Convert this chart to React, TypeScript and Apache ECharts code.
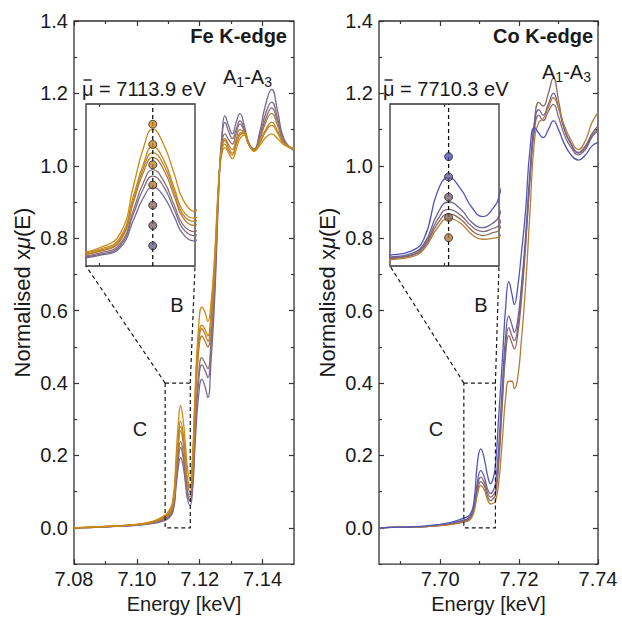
import React, { useEffect, useRef } from "react";
import * as echarts from "echarts";

const FONT = '"Liberation Sans", Arial, Helvetica, sans-serif';
const INK = "#1a1a1a";
const FRAME = "#333333";

// ---------- Fe K-edge data (energy in keV, normalised absorption) ----------
const feEnergy = [
  7.08, 7.09, 7.1, 7.105, 7.108, 7.11, 7.1115, 7.1125, 7.1132, 7.1139,
  7.1147, 7.1155, 7.1161, 7.1169, 7.1177, 7.1186, 7.1196, 7.1207, 7.1217, 7.1226,
  7.1236, 7.1248, 7.1262, 7.1272, 7.128, 7.1292, 7.1304, 7.1316, 7.1328, 7.1342,
  7.1356, 7.1373, 7.139, 7.141, 7.1429, 7.1448, 7.1468, 7.15,
];
const fePurple = [
  0.0, 0.003, 0.007, 0.012, 0.018, 0.026, 0.045, 0.115, 0.168, 0.195,
  0.172, 0.12, 0.08, 0.062, 0.1, 0.24, 0.36, 0.41, 0.39, 0.36,
  0.46, 0.64, 0.96, 1.1, 1.138, 1.11, 1.088, 1.12, 1.144, 1.11,
  1.065, 1.046, 1.09, 1.17, 1.211, 1.15, 1.075, 1.042,
];
const feViolet = [
  0.0, 0.003, 0.008, 0.013, 0.02, 0.029, 0.05, 0.13, 0.19, 0.222,
  0.196, 0.137, 0.093, 0.075, 0.115, 0.27, 0.4, 0.45, 0.435, 0.415,
  0.5, 0.67, 0.97, 1.09, 1.12, 1.095, 1.075, 1.1, 1.124, 1.1,
  1.06, 1.046, 1.08, 1.145, 1.176, 1.13, 1.07, 1.043,
];
const feMauve = [
  0.0, 0.003, 0.008, 0.014, 0.022, 0.032, 0.055, 0.14, 0.205, 0.238,
  0.21, 0.148, 0.103, 0.085, 0.125, 0.29, 0.42, 0.47, 0.455, 0.44,
  0.52, 0.69, 0.97, 1.07, 1.088, 1.072, 1.06, 1.09, 1.115, 1.095,
  1.06, 1.045, 1.075, 1.13, 1.16, 1.12, 1.068, 1.045,
];
const feBrown = [
  0.0, 0.003, 0.009, 0.015, 0.025, 0.036, 0.062, 0.16, 0.23, 0.268,
  0.238, 0.17, 0.12, 0.1, 0.15, 0.34, 0.48, 0.53, 0.515, 0.5,
  0.57, 0.72, 0.97, 1.06, 1.075, 1.058, 1.045, 1.072, 1.1, 1.09,
  1.058, 1.045, 1.07, 1.12, 1.145, 1.11, 1.065, 1.047,
];
const feAmber = [
  0.0, 0.004, 0.009, 0.016, 0.026, 0.038, 0.065, 0.165, 0.24, 0.28,
  0.25, 0.18, 0.128, 0.11, 0.16, 0.36, 0.5, 0.55, 0.535, 0.515,
  0.58, 0.73, 0.975, 1.055, 1.07, 1.05, 1.035, 1.062, 1.09, 1.093,
  1.06, 1.043, 1.063, 1.1, 1.12, 1.095, 1.062, 1.048,
];
const feOrange = [
  0.0, 0.004, 0.01, 0.017, 0.028, 0.041, 0.07, 0.175, 0.25, 0.295,
  0.262, 0.19, 0.137, 0.118, 0.17, 0.375, 0.515, 0.56, 0.548, 0.53,
  0.595, 0.745, 0.978, 1.05, 1.06, 1.042, 1.03, 1.058, 1.085, 1.09,
  1.06, 1.042, 1.06, 1.095, 1.112, 1.09, 1.06, 1.05,
];
const feGold = [
  0.0, 0.004, 0.01, 0.018, 0.03, 0.045, 0.08, 0.2, 0.29, 0.338,
  0.3, 0.225, 0.165, 0.135, 0.2, 0.39, 0.55, 0.61, 0.595, 0.57,
  0.62, 0.76, 0.98, 1.04, 1.05, 1.035, 1.02, 1.045, 1.075, 1.085,
  1.06, 1.04, 1.055, 1.078, 1.088, 1.075, 1.058, 1.045,
];
const feColors = ["#75699a", "#806b86", "#8e6f72", "#b07c3c", "#bd8226", "#c4861c", "#cc8a12"];
const feCentroid = 7.1139;
const feDotLevels = [0.35, 0.3, 0.25, 0.2, 0.15, 0.1, 0.05];
const feDotColors = ["#d08c16", "#c98a20", "#bd842c", "#b07a36", "#8d6b62", "#7d6672", "#6c6088"];
const feWindow = [7.109, 7.117];

// ---------- Co K-edge data ----------
const coEnergy = [
  7.6845, 7.69, 7.695, 7.7, 7.703, 7.706, 7.7075, 7.7085, 7.7095, 7.7103,
  7.7112, 7.712, 7.7128, 7.7135, 7.714, 7.7148, 7.7158, 7.7166, 7.7174, 7.7182,
  7.7188, 7.7196, 7.7206, 7.7216, 7.7228, 7.7239, 7.725, 7.7261, 7.7274, 7.7287,
  7.73, 7.7315, 7.7332, 7.735, 7.7368, 7.7385, 7.74,
];
const coBlue = [
  0.0, 0.002, 0.004, 0.01, 0.016, 0.027, 0.036, 0.068, 0.185, 0.218,
  0.19, 0.145, 0.122, 0.14, 0.171, 0.3, 0.47, 0.61, 0.68, 0.645,
  0.617, 0.66, 0.76, 0.87, 1.05, 1.106, 1.09, 1.078, 1.1, 1.124,
  1.1, 1.06, 1.03, 1.016, 1.03, 1.055, 1.065,
];
const coPurple = [
  0.0, 0.002, 0.003, 0.008, 0.013, 0.022, 0.03, 0.055, 0.13, 0.158,
  0.14, 0.108, 0.095, 0.105, 0.122, 0.22, 0.4, 0.53, 0.585, 0.56,
  0.54, 0.57, 0.67, 0.8, 0.99, 1.12, 1.155, 1.14, 1.17, 1.2,
  1.16, 1.1, 1.06, 1.035, 1.05, 1.085, 1.101,
];
const coMauve = [
  0.0, 0.002, 0.003, 0.007, 0.012, 0.02, 0.027, 0.05, 0.115, 0.14,
  0.125, 0.098, 0.085, 0.092, 0.101, 0.19, 0.37, 0.5, 0.553, 0.53,
  0.517, 0.55, 0.65, 0.78, 0.97, 1.1, 1.14, 1.125, 1.15, 1.17,
  1.135, 1.085, 1.05, 1.03, 1.045, 1.08, 1.097,
];
const coBrown = [
  0.0, 0.002, 0.003, 0.007, 0.011, 0.018, 0.025, 0.046, 0.105, 0.128,
  0.115, 0.088, 0.075, 0.082, 0.089, 0.17, 0.35, 0.48, 0.531, 0.51,
  0.494, 0.53, 0.63, 0.77, 0.97, 1.12, 1.175, 1.165, 1.2, 1.243,
  1.18, 1.1, 1.06, 1.037, 1.055, 1.09, 1.11,
];
const coOrange = [
  0.0, 0.002, 0.003, 0.006, 0.01, 0.016, 0.022, 0.042, 0.095, 0.117,
  0.105, 0.078, 0.066, 0.068, 0.072, 0.12, 0.25, 0.36, 0.405, 0.405,
  0.385, 0.41, 0.52, 0.66, 0.88, 1.07, 1.12, 1.13, 1.16, 1.188,
  1.16, 1.11, 1.07, 1.045, 1.07, 1.12, 1.147,
];
const coColors = ["#5055b8", "#6e6096", "#82697c", "#8c6a5c", "#b47c38"];
const coCentroid = 7.7103;
const coDotLevels = [0.27, 0.22, 0.17, 0.12, 0.07];
const coDotColors = ["#4a52b8", "#6b5c94", "#7e6674", "#8c6656", "#b2782e"];
const coWindow = [7.706, 7.714];

// ---------- axes ticks ----------
const feRange = [7.08, 7.15];
const coRange = [7.6845, 7.74];
const feMajorTicks = [7.08, 7.1, 7.12, 7.14];
const feMinorTicks = [7.09, 7.11, 7.13];
const coMajorTicks = [7.7, 7.72, 7.74];
const coMinorTicks = [7.69, 7.71, 7.73];
const yRange = [-0.1, 1.4];
const yMajorTicks = [0, 0.2, 0.4, 0.6, 0.8, 1.0, 1.2, 1.4];
const yMinorTicks = [-0.1, 0.1, 0.3, 0.5, 0.7, 0.9, 1.1, 1.3];
const zoomTop = 0.4;
const feInsetTicks = [7.11];
const coInsetTicks = [7.71];

const tickLine = { color: FRAME, width: 1.2 };
const labelFont = { fontSize: 20, fontFamily: FONT, color: INK };

function tick(values: number[], length: number) {
  return { show: true, inside: true, length, customValues: values, lineStyle: tickLine };
}

function xAxesFor(gridIndex: number, range: number[], major: number[], minor: number[]) {
  const common = {
    gridIndex, type: "value", min: range[0], max: range[1],
    splitLine: { show: false }, axisLine: { show: false, onZero: false },
  };
  return [
    {
      ...common, position: "bottom", axisTick: tick(major, 5),
      axisLabel: { show: true, customValues: major, margin: 5, formatter: (v: number) => v.toFixed(2), ...labelFont },
      name: "Energy [keV]", nameLocation: "middle", nameGap: 26,
      nameTextStyle: { fontSize: 20, fontFamily: FONT, color: INK },
    },
    { ...common, position: "top", axisTick: tick(major, 5), axisLabel: { show: false } },
    { ...common, position: "bottom", axisTick: tick(minor, 3), axisLabel: { show: false } },
    { ...common, position: "top", axisTick: tick(minor, 3), axisLabel: { show: false } },
  ];
}

function yAxesFor(gridIndex: number) {
  const common = {
    gridIndex, type: "value", min: yRange[0], max: yRange[1],
    splitLine: { show: false }, axisLine: { show: false, onZero: false },
  };
  return [
    {
      ...common, position: "left", axisTick: tick(yMajorTicks, 5),
      axisLabel: { show: true, customValues: yMajorTicks, margin: 6, formatter: (v: number) => v.toFixed(1), ...labelFont },
      name: "{n|Normalised x}{m|\u03bc}{n|(E)}", nameLocation: "middle", nameGap: 41,
      nameTextStyle: {
        fontSize: 22, fontFamily: FONT, color: INK,
        rich: {
          n: { fontSize: 22, fontFamily: FONT, color: INK },
          m: { fontSize: 22, fontFamily: FONT, color: INK, fontStyle: "italic" },
        },
      },
    },
    { ...common, position: "right", axisTick: tick(yMajorTicks, 5), axisLabel: { show: false } },
    { ...common, position: "left", axisTick: tick(yMinorTicks, 3), axisLabel: { show: false } },
    { ...common, position: "right", axisTick: tick(yMinorTicks, 3), axisLabel: { show: false } },
  ];
}

function insetXAxes(gridIndex: number, win: number[], ticks: number[]) {
  const common = {
    gridIndex, type: "value", min: win[0], max: win[1],
    splitLine: { show: false }, axisLine: { show: false, onZero: false }, axisLabel: { show: false },
  };
  return [
    { ...common, position: "bottom", axisTick: tick(ticks, 3) },
    { ...common, position: "top", axisTick: tick(ticks, 3) },
  ];
}

function insetYAxis(gridIndex: number) {
  return {
    gridIndex, type: "value", min: 0, max: zoomTop,
    splitLine: { show: false }, axisLine: { show: false, onZero: false },
    axisLabel: { show: false }, axisTick: { show: false },
  };
}

function lineSeries(energy: number[], values: number[], color: string, xi: number, yi: number) {
  return {
    type: "line", xAxisIndex: xi, yAxisIndex: yi,
    data: energy.map((e, i) => [e, values[i]]),
    showSymbol: false, symbol: "none", smooth: 0.5,
    lineStyle: { color, width: 1.3 }, silent: true, z: 2,
  };
}

const feLines = [fePurple, feViolet, feMauve, feBrown, feAmber, feOrange, feGold];
const coLines = [coBrown, coMauve, coPurple, coOrange, coBlue];
const coLineColors = [coColors[3], coColors[2], coColors[1], coColors[4], coColors[0]];

// axis index layout: x: 0-3 Fe main, 4-7 Co main, 8-9 Fe inset, 10-11 Co inset
// y: 0-3 Fe main, 4-7 Co main, 8 Fe inset, 9 Co inset
function buildOption() {
  const grids = [
    { left: 74, top: 21, width: 220, height: 548, backgroundColor: "transparent" },
    { left: 379, top: 21, width: 219, height: 548, backgroundColor: "transparent" },
    { left: 86, top: 104, width: 109, height: 162, backgroundColor: "#ffffff" },
    { left: 390, top: 104, width: 109, height: 162, backgroundColor: "#ffffff" },
  ].map((g) => ({ ...g, show: true, borderColor: FRAME, borderWidth: 1.3, containLabel: false }));

  const xAxis = [
    ...xAxesFor(0, feRange, feMajorTicks, feMinorTicks),
    ...xAxesFor(1, coRange, coMajorTicks, coMinorTicks),
    ...insetXAxes(2, feWindow, feInsetTicks),
    ...insetXAxes(3, coWindow, coInsetTicks),
  ];
  const yAxis = [...yAxesFor(0), ...yAxesFor(1), insetYAxis(2), insetYAxis(3)];

  const series: any[] = [];
  feLines.forEach((vals, i) => series.push(lineSeries(feEnergy, vals, feColors[i], 0, 0)));
  coLines.forEach((vals, i) => series.push(lineSeries(coEnergy, vals, coLineColors[i], 4, 4)));
  feLines.forEach((vals, i) => series.push(lineSeries(feEnergy, vals, feColors[i], 8, 8)));
  coLines.forEach((vals, i) => series.push(lineSeries(coEnergy, vals, coLineColors[i], 10, 9)));

  const centroidLine = (x: number, xi: number, yi: number) => ({
    type: "line", xAxisIndex: xi, yAxisIndex: yi, data: [[x, 0], [x, zoomTop]],
    symbol: "none", silent: true, z: 3,
    lineStyle: { color: "#111", width: 1.3, type: [4, 3] },
  });
  series.push(centroidLine(feCentroid, 8, 8));
  series.push(centroidLine(coCentroid, 10, 9));

  const dots = (x: number, levels: number[], colors: string[], xi: number, yi: number) => ({
    type: "scatter", xAxisIndex: xi, yAxisIndex: yi, silent: true, z: 4,
    symbolSize: 8,
    data: levels.map((v, i) => ({ value: [x, v], itemStyle: { color: colors[i] } })),
    itemStyle: { borderColor: "#222", borderWidth: 1 },
  });
  series.push(dots(feCentroid, feDotLevels, feDotColors, 8, 8));
  series.push(dots(coCentroid, coDotLevels, coDotColors, 10, 9));

  return {
    animation: false,
    backgroundColor: "#ffffff",
    textStyle: { fontFamily: FONT },
    grid: grids,
    xAxis,
    yAxis,
    series,
  };
}

export default function App() {
  const ref = useRef<HTMLDivElement>(null);
  useEffect(() => {
    if (!ref.current) return;
    const chart = echarts.init(ref.current, null, { renderer: "svg" });
    chart.setOption(buildOption() as any);

    const toPx = (xi: number, yi: number, pt: number[]) =>
      chart.convertToPixel({ xAxisIndex: xi, yAxisIndex: yi } as any, pt) as unknown as number[];
    const dash = { stroke: INK, lineWidth: 1.2, lineDash: [4, 3], fill: "none" };
    const zoomParts = (mx: number, my: number, ix: number, iy: number, win: number[]) => {
      const tl = toPx(mx, my, [win[0], zoomTop]);
      const br = toPx(mx, my, [win[1], 0]);
      const ibl = toPx(ix, iy, [win[0], 0]);
      const ibr = toPx(ix, iy, [win[1], 0]);
      return [
        { type: "rect", silent: true, z: 50, shape: { x: tl[0], y: tl[1], width: br[0] - tl[0], height: br[1] - tl[1] }, style: { ...dash } },
        { type: "polyline", silent: true, z: 50, shape: { points: [[tl[0], tl[1]], [ibl[0], ibl[1]]] }, style: { ...dash } },
        { type: "polyline", silent: true, z: 50, shape: { points: [[br[0], tl[1]], [ibr[0], ibr[1]]] }, style: { ...dash } },
      ];
    };
    const txt = (x: number, y: number, text: string, opts: any = {}) => ({
      type: "text", x, y, silent: true, z: 60,
      style: { text, fontSize: 20, fontFamily: FONT, fill: INK, align: "left", verticalAlign: "middle", ...opts },
    });
    const sub = (x: number, y: number) => ({
      type: "text", x, y, silent: true, z: 60,
      style: {
        text: "{a|A}{s|1}{a|-A}{s|3}", align: "left", verticalAlign: "middle",
        rich: {
          a: { fontSize: 20, lineHeight: 24, fontFamily: FONT, fill: INK },
          s: { fontSize: 14, lineHeight: 14, padding: [10, 0, 0, 0], fontFamily: FONT, fill: INK },
        },
      },
    });
    const bar = (x1: number, x2: number, y: number) => ({
      type: "line", silent: true, z: 60,
      shape: { x1, y1: y, x2, y2: y },
      style: { stroke: INK, lineWidth: 1.4 },
    });

    chart.setOption({
      graphic: [
        ...zoomParts(0, 0, 8, 8, feWindow),
        ...zoomParts(4, 4, 10, 9, coWindow),
        txt(287, 36, "Fe K-edge", { fontWeight: "bold", align: "right" }),
        txt(593, 36, "Co K-edge", { fontWeight: "bold", align: "right" }),
        sub(223, 77),
        sub(542, 72),
        txt(82, 89, "\u03bc = 7113.9 eV"),
        bar(83.5, 91.5, 80),
        txt(383, 89, "\u03bc = 7710.3 eV"),
        bar(384.5, 392.5, 80),
        txt(177, 305, "B", { align: "center" }),
        txt(481, 305, "B", { align: "center" }),
        txt(140, 429, "C", { align: "center" }),
        txt(436, 429, "C", { align: "center" }),
      ],
    } as any);

    return () => chart.dispose();
  }, []);
  return <div ref={ref} style={{ position: "absolute", left: 0, top: 0, width: 622, height: 619 }} />;
}
